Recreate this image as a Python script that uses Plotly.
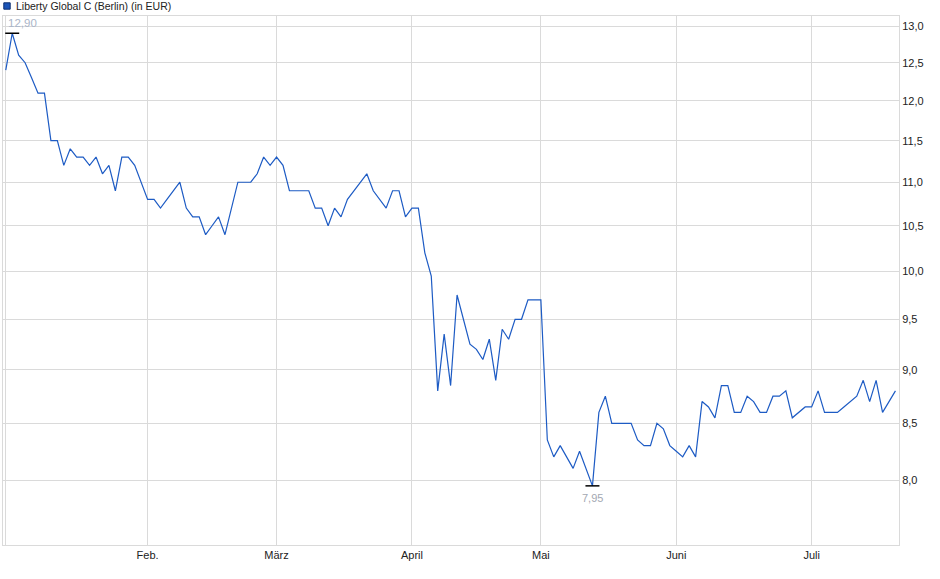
import math

import pandas as pd
import plotly.graph_objects as go

# Handelstage Berlin (Jan bis Jul), ohne Feiertage
HOLIDAYS = ["2025-01-01", "2025-04-18", "2025-04-21", "2025-05-01"]
days = pd.bdate_range("2025-01-02", "2025-07-18")
days = days[~days.isin(pd.to_datetime(HOLIDAYS))]
dates = [d.strftime("%Y-%m-%d") for d in days]

# Schlusskurse in EUR
jan = [12.4, 12.9, 12.6, 12.5, 12.3, 12.1, 12.1, 11.5, 11.5, 11.2, 11.4,
       11.3, 11.3, 11.2, 11.3, 11.1, 11.2, 10.9, 11.3, 11.3, 11.2, 11.0]
feb = [10.8, 10.8, 10.7, 10.8, 10.9, 11.0, 10.7, 10.6, 10.6, 10.4,
       10.5, 10.6, 10.4, 10.7, 11.0, 11.0, 11.0, 11.1, 11.3, 11.2]
mar = [11.3, 11.2, 10.9, 10.9, 10.9, 10.9, 10.7, 10.7, 10.5, 10.7, 10.6,
       10.8, 10.9, 11.0, 11.1, 10.9, 10.8, 10.7, 10.9, 10.9, 10.6]
apr = [10.7, 10.7, 10.2, 9.95, 8.8, 9.35, 8.85, 9.75, 9.5, 9.25,
       9.2, 9.1, 9.3, 8.9, 9.4, 9.3, 9.5, 9.5, 9.7, 9.7]
mai = [9.7, 8.35, 8.2, 8.3, 8.2, 8.1, 8.25, 8.1, 7.95, 8.6, 8.75,
       8.5, 8.5, 8.5, 8.5, 8.35, 8.3, 8.3, 8.5, 8.45, 8.3]
jun = [8.25, 8.2, 8.3, 8.2, 8.7, 8.65, 8.55, 8.85, 8.85, 8.6, 8.6,
       8.75, 8.7, 8.6, 8.6, 8.75, 8.75, 8.8, 8.55, 8.6, 8.65]
jul = [8.65, 8.8, 8.6, 8.6, 8.6, 8.65, 8.7, 8.75, 8.9, 8.7, 8.9,
       8.6, 8.7, 8.8]
prices = jan + feb + mar + apr + mai + jun + jul
assert len(prices) == len(dates)

month_labels = ["", "Feb.", "März", "April", "Mai", "Juni", "Juli"]
y_ticks = [8.0, 8.5, 9.0, 9.5, 10.0, 10.5, 11.0, 11.5, 12.0, 12.5, 13.0]

# erster Handelstag je Monat -> Gitterlinie
month_first = [dates[i] for i in range(len(dates))
               if i == 0 or dates[i][:7] != dates[i - 1][:7]]


def de(v, nd):
    return f"{v:.{nd}f}".replace(".", ",")


imax = max(range(len(prices)), key=lambda i: prices[i])
imin = min(range(len(prices)), key=lambda i: prices[i])

BLUE = "#1d5bc4"
GRID = "#dadada"

fig = go.Figure()
fig.add_trace(go.Scatter(x=dates, y=prices, mode="lines",
                         line=dict(color=BLUE, width=1.2), showlegend=False,
                         hovertemplate="%{x}<br>%{y:.2f} EUR<extra></extra>"))
# Hoch/Tief-Markierung
fig.add_trace(go.Scatter(x=[dates[imax], dates[imin]], y=[prices[imax], prices[imin]],
                         mode="markers", showlegend=False, hoverinfo="skip",
                         marker=dict(symbol="line-ew", size=10, color="black",
                                     line=dict(width=1.5, color="black"))))
# log-Achse: Annotationen in log10-Einheiten
fig.add_annotation(x=dates[imax], y=math.log10(prices[imax]), text=de(prices[imax], 2),
                   showarrow=False, xanchor="left", yanchor="bottom", xshift=-6, yshift=2,
                   font=dict(size=11.5, color="#aab5c8"))
fig.add_annotation(x=dates[imin], y=math.log10(prices[imin]), text=de(prices[imin], 2),
                   showarrow=False, xanchor="center", yanchor="top", yshift=-4,
                   font=dict(size=11, color="#a3a8b2"))

# Legende oben links
fig.add_shape(type="rect", xref="paper", yref="paper", xsizemode="pixel", ysizemode="pixel",
              xanchor=0, yanchor=1, x0=0.8, x1=7.2, y0=6.8, y1=13.2,
              fillcolor="#1c55b8", line=dict(color="#0e2f70", width=1))
fig.add_annotation(xref="paper", yref="paper", x=0, y=1, xanchor="left", yanchor="middle",
                   xshift=11, yshift=10, showarrow=False,
                   text="Liberty Global C (Berlin) (in EUR)",
                   font=dict(size=10.5, color="#222222"))

fig.update_layout(
    width=940, height=579, autosize=False,
    margin=dict(l=3, r=41, t=16, b=34),
    paper_bgcolor="white", plot_bgcolor="white",
    font=dict(family="Arial, Liberation Sans, sans-serif", size=11, color="#222222"),
    separators=",.",
    hovermode="closest",
)
fig.update_xaxes(type="category", range=[-0.43, len(dates) - 0.45],
                 tickmode="array", tickvals=month_first, ticktext=month_labels,
                 showgrid=True, gridcolor=GRID, gridwidth=1,
                 showline=True, linecolor=GRID, linewidth=1, mirror=True,
                 ticks="", zeroline=False)
fig.update_yaxes(type="log", range=[0.87290, 1.11860], side="right",
                 tickmode="array", tickvals=y_ticks, ticktext=[de(v, 1) for v in y_ticks],
                 showgrid=True, gridcolor=GRID, gridwidth=1,
                 showline=True, linecolor=GRID, linewidth=1, mirror=True,
                 ticks="", zeroline=False)

# Seitenrand des Browsers entfernen, damit die Grafik bei (0,0) beginnt
fig.write_html("out.html", config={"displayModeBar": False},
               post_script="document.body.style.margin='0';")
